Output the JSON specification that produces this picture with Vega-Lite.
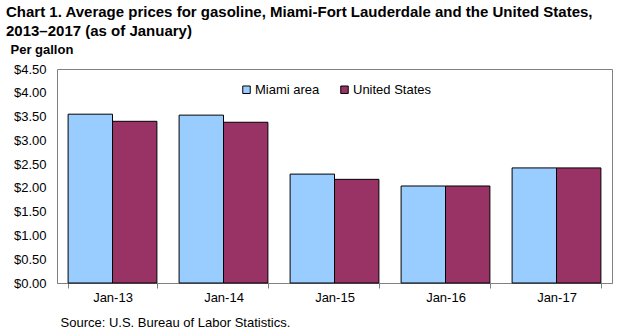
{
  "$schema": "https://vega.github.io/schema/vega-lite/v6.json",
  "width": 555,
  "height": 214,
  "autosize": "none",
  "padding": {"left": 57, "top": 69, "right": 7, "bottom": 52},
  "background": "white",
  "config": {
    "font": "Liberation Sans",
    "view": {"stroke": "#808080", "strokeWidth": 1},
    "axis": {"labelColor": "black", "titleColor": "black", "labelFontSize": 13, "grid": false}
  },
  "title": {
    "text": ["Chart 1. Average prices for gasoline, Miami-Fort Lauderdale and the United States,", "2013\u20132017 (as of January)"],
    "anchor": "start",
    "frame": "group",
    "dx": -51,
    "offset": 4,
    "fontSize": 15,
    "fontWeight": "bold",
    "color": "black",
    "lineHeight": 19
  },
  "data": {
    "values": [
      {"month": "Jan-13", "series": "Miami area", "price": 3.55},
      {"month": "Jan-13", "series": "United States", "price": 3.40},
      {"month": "Jan-14", "series": "Miami area", "price": 3.53},
      {"month": "Jan-14", "series": "United States", "price": 3.38},
      {"month": "Jan-15", "series": "Miami area", "price": 2.29},
      {"month": "Jan-15", "series": "United States", "price": 2.18},
      {"month": "Jan-16", "series": "Miami area", "price": 2.04},
      {"month": "Jan-16", "series": "United States", "price": 2.04},
      {"month": "Jan-17", "series": "Miami area", "price": 2.42},
      {"month": "Jan-17", "series": "United States", "price": 2.42}
    ]
  },
  "mark": {"type": "bar", "stroke": "black", "strokeWidth": 1},
  "encoding": {
    "x": {
      "field": "month",
      "type": "nominal",
      "scale": {"paddingInner": 0.2, "paddingOuter": 0.1},
      "axis": {
        "labelAngle": 0,
        "domainColor": "#808080",
        "tickColor": "#808080",
        "tickBand": "extent",
        "tickSize": 5,
        "labelPadding": 3,
        "title": "Source: U.S. Bureau of Labor Statistics.",
        "titleFontSize": 13,
        "titleFontWeight": "normal",
        "titleAnchor": "start",
        "titleAlign": "left",
        "titleBaseline": "middle",
        "titleX": 3,
        "titleY": 39
      }
    },
    "xOffset": {"field": "series", "sort": ["Miami area", "United States"]},
    "y": {
      "field": "price",
      "type": "quantitative",
      "scale": {"domain": [0, 4.5], "nice": false},
      "axis": {
        "values": [0, 0.5, 1, 1.5, 2, 2.5, 3, 3.5, 4, 4.5],
        "format": "$.2f",
        "ticks": false,
        "domain": false,
        "labelPadding": 11,
        "title": "Per gallon",
        "titleAngle": 0,
        "titleFontSize": 13,
        "titleFontWeight": "bold",
        "titleAlign": "left",
        "titleBaseline": "bottom",
        "titleX": -47,
        "titleY": -13
      }
    },
    "color": {
      "field": "series",
      "type": "nominal",
      "scale": {"domain": ["Miami area", "United States"], "range": ["#99CCFF", "#993366"]},
      "legend": {
        "title": null,
        "orient": "none",
        "direction": "horizontal",
        "legendX": 183,
        "legendY": 14,
        "padding": 0,
        "symbolType": "square",
        "symbolSize": 56,
        "symbolStrokeColor": "black",
        "symbolStrokeWidth": 1,
        "labelFontSize": 13,
        "labelColor": "black",
        "labelOffset": 2,
        "columnPadding": 18
      }
    }
  }
}
